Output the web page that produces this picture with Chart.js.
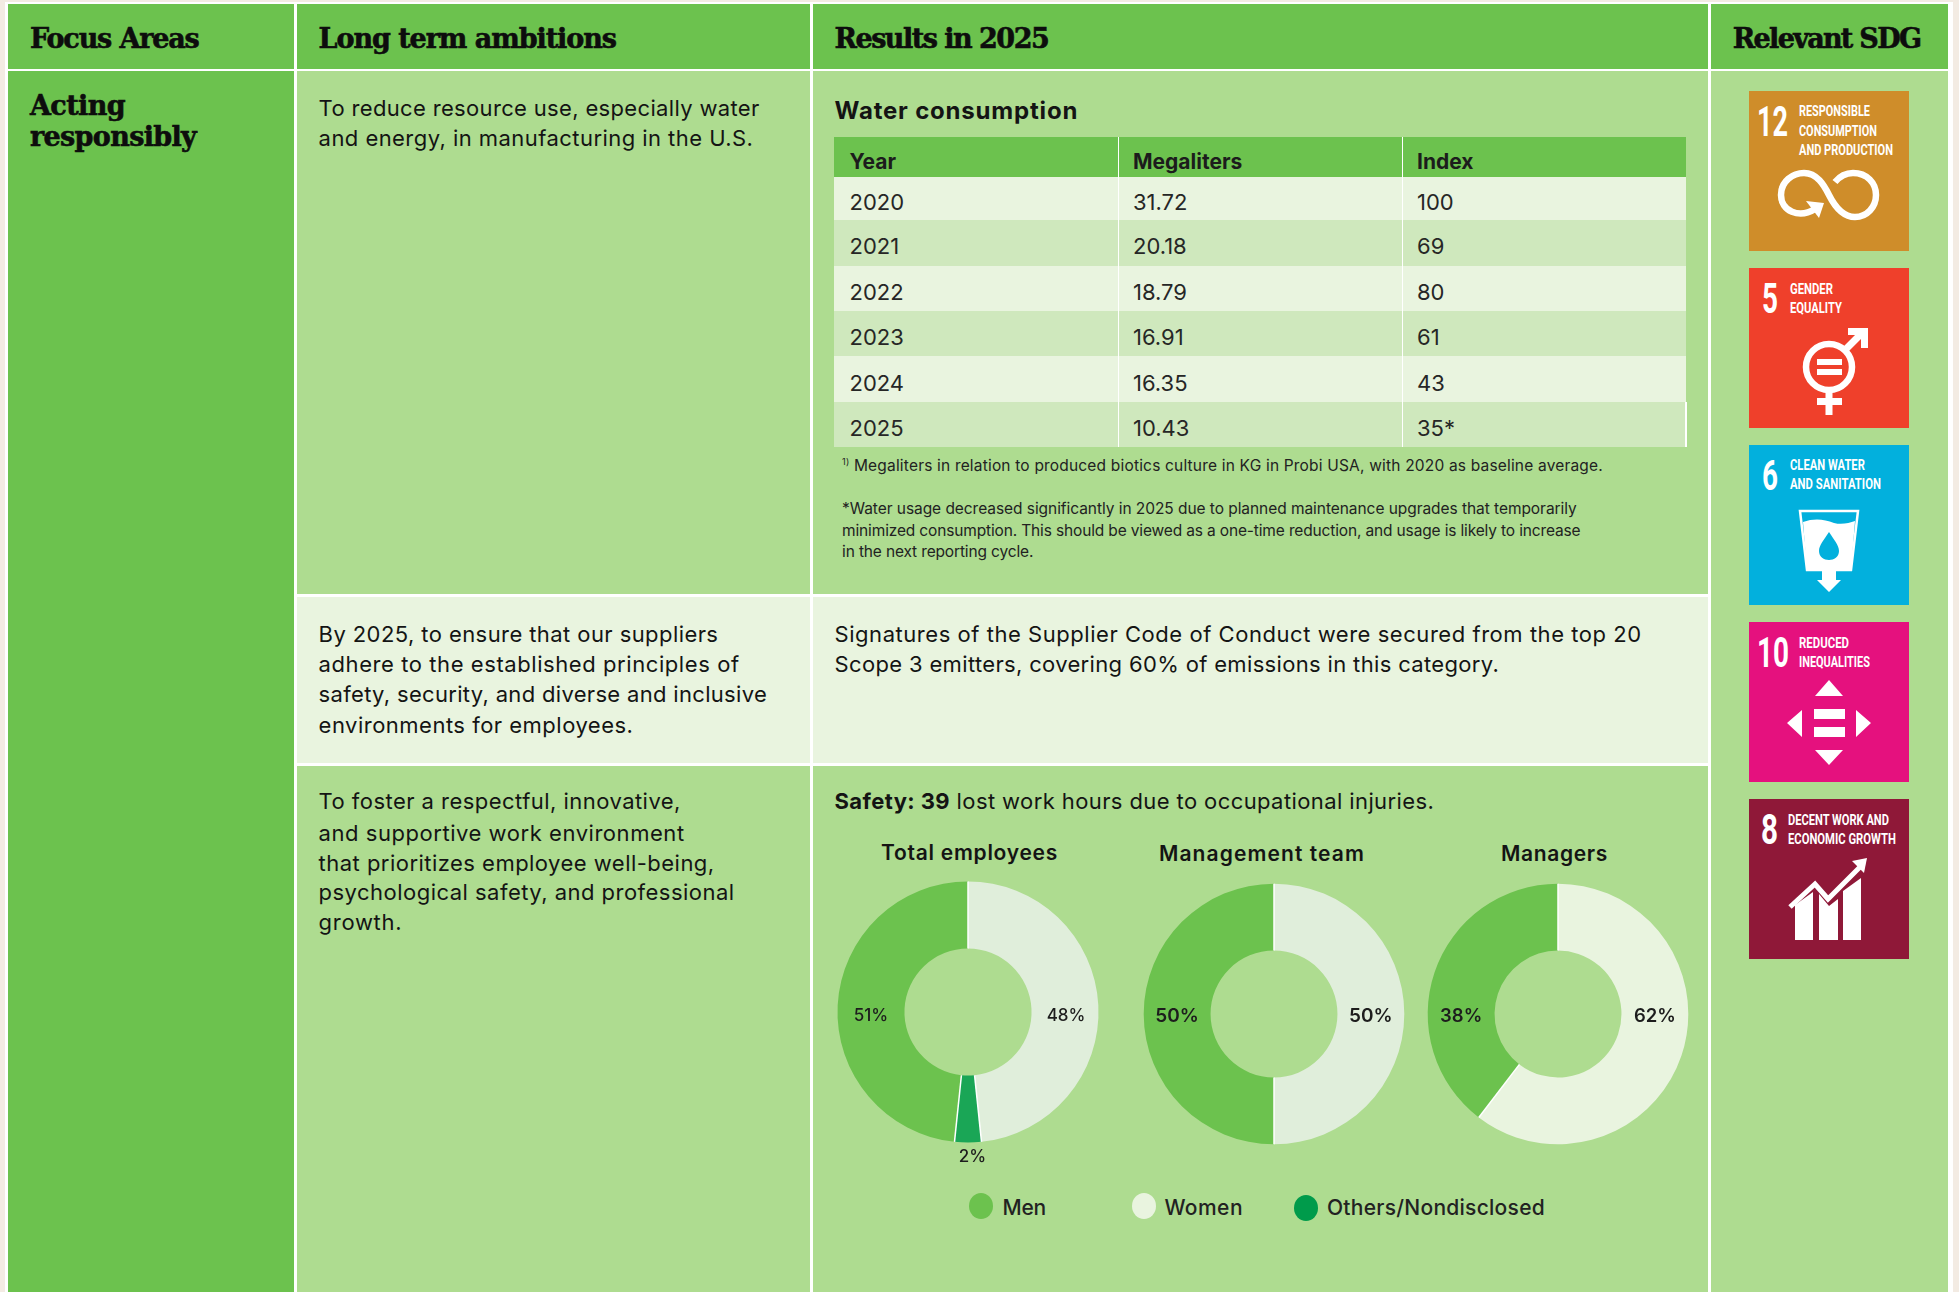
<!DOCTYPE html>
<html><head><meta charset="utf-8">
<script src="https://cdn.jsdelivr.net/npm/chart.js@4/dist/chart.umd.min.js"></script>
<style>
html,body{margin:0;padding:0;background:#f3ebe3;}
#page{position:relative;width:1959px;height:1292px;overflow:hidden;background:#f3ebe3;font-family:Inter,sans-serif;color:#141414;}
.box,.t,.mark,canvas,svg{position:absolute;}
.t{white-space:nowrap;line-height:1;}
svg text{font-family:"Liberation Sans Narrow",Roboto,sans-serif;fill:#fff;font-weight:700;}
</style></head><body><div id="page"></div>
<script>
// ---------- chart and table values ----------
const years = ["2020","2021","2022","2023","2024","2025"];
const megaliters = ["31.72","20.18","18.79","16.91","16.35","10.43"];
const indexValues = ["100","69","80","61","43","35*"];
const tableHeads = ["Year","Megaliters","Index"];
const genderCategories = ["Women","Others/Nondisclosed","Men"];
const donutTitles = ["Total employees","Management team","Managers"];
// Slice sizes as drawn in the picture (the printed percentages below differ slightly from the drawn angles).
const totalEmployeesSlices = [48.35,3.3,48.35];
const managementTeamSlices = [50,0,50];
const managersSlices = [60.4,0,39.6];
// Percentages as printed on the slices.
const totalEmployeesPrinted = ["48%","2%","51%"];
const managementTeamPrinted = ["50%","","50%"];
const managersPrinted = ["62%","","38%"];

// ---------- styling / layout ----------
const GREEN="#6cc24e", LIGHT="#aedc90", PALE="#e9f4df", MID="#cfe8bd", DARK="#1aa656";
const S=1959/1568;
const page=document.getElementById("page");
function box(x,y,w,h,c){const d=document.createElement("div");d.className="box";d.style.cssText=`left:${x}px;top:${y}px;width:${w}px;height:${h}px;background:${c}`;page.appendChild(d);return d;}
function text(x0,x1,cy,html,size,weight,font,color,extra){
  const d=document.createElement("div");d.className="t";d.innerHTML=html;
  d.style.cssText=`left:${x0}px;top:${cy-size/2}px;font-size:${size}px;font-weight:${weight||400};font-family:${font||"Inter,sans-serif"};color:${color||"#141414"};${extra||""}`;
  page.appendChild(d);
  if(x1){const w=d.getBoundingClientRect().width,n=d.textContent.length;d.style.letterSpacing=((x1-x0-w)/n)+"px";}
  return d;
}
const SLAB='"DejaVu Serif",serif', HEAVY="-webkit-text-stroke:0.6px #0d0d0d;";
// frame
box(5,2,1948,1290,"#ffffff");
const cols=[[8,294],[297,810],[813,1708],[1711,1948]];
cols.forEach(c=>box(c[0],4,c[1]-c[0],65,GREEN));
box(8,71,286,1221,GREEN);
box(297,71,513,523,LIGHT); box(813,71,895,523,LIGHT);
box(297,597,513,166,PALE); box(813,597,895,166,PALE);
box(297,766,513,526,LIGHT); box(813,766,895,526,LIGHT);
box(1711,71,237,1221,LIGHT);
// headings
[[24,159,"Focus Areas"],[255,493,"Long term ambitions"],[668,839,"Results in 2025"],[1387,1537,"Relevant SDG"]]
 .forEach(h=>text(h[0]*S,h[1]*S,38,h[2],27,800,SLAB,"#0d0d0d",HEAVY));
text(24*S,100*S,105,"Acting",27,800,SLAB,"#0d0d0d",HEAVY);
text(24*S,157*S,136,"responsibly",27,800,SLAB,"#0d0d0d",HEAVY);
// body copy
const bodyLines=[
[255,608,87,"To reduce resource use, especially water"],[255,603,111,"and energy, in manufacturing in the U.S."],
[255,575,508,"By 2025, to ensure that our suppliers"],[255,592,532,"adhere to the established principles of"],
[255,614,556,"safety, security, and diverse and inclusive"],[255,507,581,"environments for employees."],
[255,545,642,"To foster a respectful, innovative,"],[255,548,667,"and supportive work environment"],
[255,572,691,"that prioritizes employee well-being,"],[255,588,715,"psychological safety, and professional"],[255,322,739,"growth."],
[668,1314,508,"Signatures of the Supplier Code of Conduct were secured from the top 20"],
[668,1200,532,"Scope 3 emitters, covering 60% of emissions in this category."],
[668,1148,642,"<b style='font-weight:700'>Safety: 39</b> lost work hours due to occupational injuries."]];
bodyLines.forEach(l=>text(l[0]*S,l[1]*S,l[2]*S-0.8,l[3],22,400));
text(668*S,863*S,88.8*S,"Water consumption",24,700);
// table
const rowEdges=[177,220,266,311,356,402,447], colEdges=[834,1117.5,1401.5,1686];
box(834,137,852,40,GREEN);
years.forEach((y,i)=>{box(834,rowEdges[i],852,rowEdges[i+1]-rowEdges[i],i%2?MID:PALE);});
[1117.5,1401.5].forEach(x=>box(x,137,1.5,310,"#fff"));
box(1685,402,1.5,45,"#fff");
tableHeads.forEach((h,i)=>text(colEdges[i]+15.5,null,161,h,21,700,null,"#1c1c1c"));
years.forEach((y,i)=>{
  const cy=[202,246,292,337,383,428][i];
  [y,megaliters[i],indexValues[i]].forEach((v,j)=>text(colEdges[j]+15.5,null,cy,v,22,400,null,"#262626"));
});
// notes
text(674*S,1283*S,373*S,"<sup style='font-size:9px;line-height:0'>1)</sup> Megaliters in relation to produced biotics culture in KG in Probi USA, with 2020 as baseline average.",15.5,400,null,"#222");
text(674*S,1262*S,407.5*S,"*Water usage decreased significantly in 2025 due to planned maintenance upgrades that temporarily",15.5,400,null,"#222");
text(674*S,1265*S,424.5*S,"minimized consumption. This should be viewed as a one-time reduction, and usage is likely to increase",15.5,400,null,"#222");
text(674*S,827*S,442*S,"in the next reporting cycle.",15.5,400,null,"#222");
// donut titles
text(881,1058,852,donutTitles[0],21,600);
text(1159,1365,853,donutTitles[1],21,600);
text(1501,1608,853,donutTitles[2],21,600);
// legend
[[981,1206,GREEN,genderCategories[2],1002.5,"Men",1046],[1144,1206,PALE,genderCategories[0],1164.4,"Women",1243],[1306,1208,"#009b4b",genderCategories[1],1327,"Others/Nondisclosed",1545]]
.forEach(l=>{const m=box(l[0]-12,l[1]-13,24,26,l[2]);m.style.borderRadius="50%";text(l[4],l[6],1207,l[3],21,500,null,"#222");});

// ---------- doughnuts ----------
const slicePlugin={id:"sliceDecor",afterDatasetsDraw(chart,_,o){
  const ctx=chart.ctx,arcs=chart.getDatasetMeta(0).data;
  ctx.save();
  ctx.strokeStyle="#fff";ctx.lineWidth=1.5;
  arcs.forEach(a=>{ if(a.circumference<=0) return;
    ctx.beginPath();
    ctx.moveTo(a.x+Math.cos(a.startAngle)*a.innerRadius,a.y+Math.sin(a.startAngle)*a.innerRadius);
    ctx.lineTo(a.x+Math.cos(a.startAngle)*a.outerRadius,a.y+Math.sin(a.startAngle)*a.outerRadius);
    ctx.stroke();});
  ctx.textAlign="center";ctx.textBaseline="middle";ctx.fillStyle="#1d1d1d";ctx.font=o.font;
  o.printed.forEach((s,i)=>{ if(!s) return;
    const a=arcs[i],ang=o.angles[i]*Math.PI/180,r=o.radii[i]*(a.innerRadius+a.outerRadius)/2;
    ctx.fillText(s,a.x+Math.cos(ang)*r+(o.dx?o.dx[i]:0),a.y+Math.sin(ang)*r+(o.dy||2));});
  ctx.restore();
}};
function donut(cx,cy,values,colors,printed,font,radii,dx,pad,dy){
  const c=document.createElement("canvas");c.width=320;c.height=320;
  c.style.cssText=`left:${cx-160}px;top:${cy-160}px;width:320px;height:320px`;page.appendChild(c);
  new Chart(c,{type:"doughnut",plugins:[slicePlugin],data:{labels:genderCategories,datasets:[{data:values,backgroundColor:colors,borderWidth:0}]},
    options:{responsive:false,animation:false,cutout:"48.7%",layout:{padding:pad},
      plugins:{legend:{display:false},tooltip:{enabled:false},
        sliceDecor:{printed,font,angles:[0,90,180],radii,dx,dy}}}});
}
donut(968,1012,totalEmployeesSlices,["#e0eedb",DARK,GREEN],totalEmployeesPrinted,"500 17px Inter",[1,1.45,1],[1,4.5,0],29.5,4);
donut(1273.7,1014,managementTeamSlices,["#e0eedb",DARK,GREEN],managementTeamPrinted,"600 19px Inter",[1,1,1],null,29.7,2);
donut(1557.6,1014,managersSlices,["#e9f4df",DARK,GREEN],managersPrinted,"600 18.5px Inter",[1,1,1],null,29.7,2);

// ---------- SDG tiles ----------
function tl(x0,x1,b,s,size){return `<text data-x0="${x0}" data-x1="${x1}" x="${x0}" y="${b}" font-size="${size||15.5}">${s}</text>`;}
function num(x0,x1,s){return `<text data-x0="${x0}" data-x1="${x1}" x="${x0}" y="45" font-size="43">${s}</text>`;}
const tiles=[
 [91,"#cf8d2a",num(8,39,"12")+tl(50,121,25,"RESPONSIBLE")+tl(50,128,45,"CONSUMPTION")+tl(50,144,64,"AND PRODUCTION")+
  `<path d="M66 118C50 128 32 120 32 104C32 90 44 82 55 82C68 82 75 94 80 104C86 116 94 126 106 126C118 126 127 116 127 104C127 92 118 82 104 82C98 82 91 85 86 91" fill="none" stroke="#fff" stroke-width="6.5"/><path d="M57 110L75 112L70 127Z" fill="#fff"/>`],
 [268,"#ef402b",num(13,29,"5")+tl(41,84,26,"GENDER")+tl(41,93,45,"EQUALITY")+
  `<circle cx="80" cy="99" r="23" fill="none" stroke="#fff" stroke-width="6.5"/><path d="M68 91h25v6h-25zM68 101h25v6h-25zM76.500 124h7v23h-7zM68 130h25v7h-25z" fill="#fff"/><path d="M96 82L115 63M99 63.500H115.500V80" fill="none" stroke="#fff" stroke-width="7"/>`],
 [445,"#02b0dd",num(13,29,"6")+tl(41,116,25,"CLEAN WATER")+tl(41,132,44,"AND SANITATION")+
  `<path d="M51 66H109L102 125H58Z" fill="none" stroke="#fff" stroke-width="2.500"/><path d="M54 77C65 73 75 74 85 78C93 80 100 78 106 76L102 125H87V135H92L80 147L68 135H73V125H58Z" fill="#fff"/><path d="M80 87C85 95 90 100 90 106C90 112 85 115 80 115C75 115 70 112 70 106C70 100 75 95 80 87Z" fill="#02b0dd"/>`],
 [622,"#e5117e",num(8,40,"10")+tl(50,100,26,"REDUCED")+tl(50,121,45,"INEQUALITIES")+
  `<path d="M80 58L94 74H66ZM65 87h31v10h-31zM65 105h31v10h-31zM38 101L53 88V115ZM122 101L107 88V115ZM66 128H94L80 143Z" fill="#fff"/>`],
 [799,"#8f1838",num(12,29,"8")+tl(39,140,26,"DECENT WORK AND")+tl(39,147,45,"ECONOMIC GROWTH")+
  `<path d="M46 106L64 93V141H46ZM70 95L80 107L89 100V141H70ZM94 92L112 79V141H94Z" fill="#fff"/><path d="M41 108L66 85L79 100L112 67" fill="none" stroke="#fff" stroke-width="5"/><path d="M103 62L118 59L115 74Z" fill="#fff"/>`]];
tiles.forEach(t=>{
  const d=document.createElement("div");
  d.innerHTML=`<svg style="left:1749px;top:${t[0]}px" width="160" height="160" viewBox="0 0 160 160"><rect width="160" height="160" fill="${t[1]}"/>${t[2]}</svg>`;
  const svg=d.firstChild;page.appendChild(svg);
  svg.querySelectorAll("text").forEach(e=>{
    const x0=+e.dataset.x0,x1=+e.dataset.x1,k=(x1-x0)/e.getComputedTextLength();
    e.setAttribute("transform",`translate(${x0} 0) scale(${k} 1) translate(${-x0} 0)`);
  });
});
</script></body></html>
